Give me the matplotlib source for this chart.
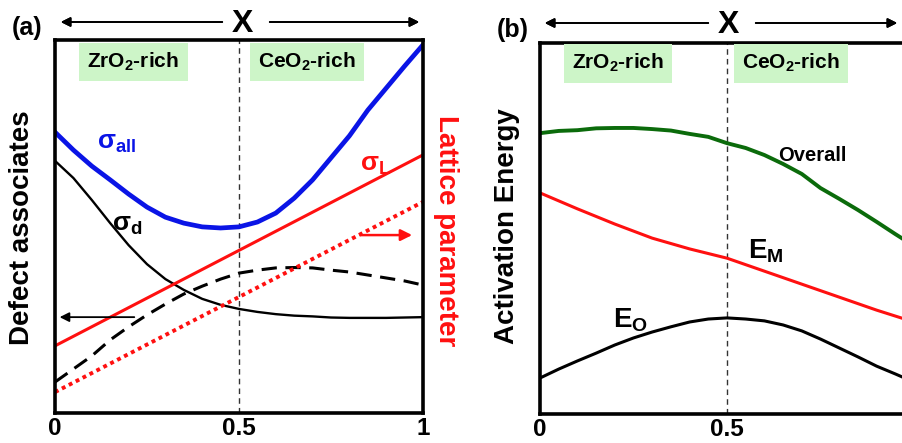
import numpy as np
import matplotlib.pyplot as plt

plt.rcParams['font.family'] = ['Liberation Sans', 'DejaVu Sans']
plt.rcParams['font.weight'] = 'bold'
plt.rcParams['mathtext.fontset'] = 'custom'
plt.rcParams['mathtext.rm'] = 'Liberation Sans:bold'
plt.rcParams['mathtext.bf'] = 'Liberation Sans:bold'
plt.rcParams['mathtext.it'] = 'Liberation Sans:bold'

# composition x (fraction of CeO2)
x_a = np.round(np.arange(0, 1.0001, 0.05), 2)

# panel (a), arbitrary units 0..1
sigma_all = [0.753, 0.705, 0.662, 0.625, 0.587, 0.552, 0.525, 0.509, 0.499, 0.496, 0.499,
             0.512, 0.536, 0.576, 0.625, 0.684, 0.743, 0.812, 0.871, 0.930, 0.987]
sigma_d = [0.676, 0.630, 0.571, 0.509, 0.450, 0.399, 0.359, 0.330, 0.306, 0.290, 0.279,
           0.271, 0.265, 0.261, 0.259, 0.256, 0.255, 0.255, 0.255, 0.256, 0.257]
dashed = [0.083, 0.118, 0.153, 0.196, 0.231, 0.263, 0.292, 0.319, 0.340, 0.359, 0.375,
          0.383, 0.389, 0.390, 0.389, 0.383, 0.378, 0.370, 0.362, 0.354, 0.343]
x_lin = [0, 1]
sigma_L = [0.180, 0.692]
lattice = [0.056, 0.566]

# panel (b), arbitrary units 0..1
overall = [0.757, 0.763, 0.765, 0.770, 0.771, 0.771, 0.768, 0.764, 0.755, 0.747, 0.730,
           0.717, 0.698, 0.674, 0.647, 0.609, 0.580, 0.550, 0.518, 0.485, 0.453]
x_em = [0, 0.1, 0.2, 0.3, 0.4, 0.5, 0.6, 0.7, 0.8, 0.9, 1.0]
E_M = [0.596, 0.553, 0.512, 0.474, 0.445, 0.420, 0.385, 0.350, 0.315, 0.280, 0.248]
E_O = [0.097, 0.121, 0.143, 0.164, 0.186, 0.205, 0.221, 0.235, 0.248, 0.256, 0.259,
       0.256, 0.251, 0.240, 0.224, 0.202, 0.178, 0.154, 0.129, 0.108, 0.086]

ticks = [0, 0.5, 1]
tick_labels = ['0', '0.5', '1']

W, H = 902, 443
fig = plt.figure(figsize=(W / 100, H / 100), dpi=100)
ax1 = fig.add_axes([55 / W, (H - 413) / H, 368 / W, 373 / H])
ax2 = fig.add_axes([540 / W, (H - 414) / H, 374 / W, 371 / H])

box = dict(facecolor='#cdf5c8', edgecolor='none', pad=6)


def setup(ax):
    ax.set_xlim(0, 1)
    ax.set_ylim(0, 1)
    for s in ax.spines.values():
        s.set_linewidth(2.6)
    ax.set_yticks([])
    ax.set_xticks(ticks)
    ax.set_xticklabels(tick_labels, fontsize=17.5, fontweight='bold')
    ax.tick_params(axis='x', length=0, pad=3)
    ax.axvline(0.5, color='#333333', lw=1, ls=(0, (4, 3)))


setup(ax1)
ax1.plot(x_a, sigma_all, color='#0a14e6', lw=3.4, solid_joinstyle='round')
ax1.plot(x_a, sigma_d, color='black', lw=1.7, solid_joinstyle='round')
ax1.plot(x_a, dashed, color='black', lw=2.2, ls=(0, (5, 2.8)))
ax1.plot(x_lin, sigma_L, color='#ff1010', lw=2.2)
ax1.plot(x_lin, lattice, color='#ff1010', lw=2.8, ls=(0, (1, 1)))

ax1.annotate('', xy=(0.005, 0.257), xytext=(0.223, 0.257),
             arrowprops=dict(arrowstyle='-|>', color='black', lw=1.3, mutation_scale=14))
ax1.annotate('', xy=(0.978, 0.477), xytext=(0.823, 0.477),
             arrowprops=dict(arrowstyle='-|>', color='#ff1010', lw=1.8, mutation_scale=17))

ax1.text(0.114, 0.724, r'$\mathbf{\sigma_{all}}$', color='#0a14e6', fontsize=19, ha='left', va='center')
ax1.text(0.155, 0.504, r'$\mathbf{\sigma_{d}}$', color='black', fontsize=19, ha='left', va='center')
ax1.text(0.829, 0.665, r'$\mathbf{\sigma_{L}}$', color='#ff1010', fontsize=19, ha='left', va='center')

ax1.text(0.213, 0.941, r'ZrO$_\mathbf{2}$-rich', fontsize=15, ha='center', va='center', bbox=box)
ax1.text(0.685, 0.941, r'CeO$_\mathbf{2}$-rich', fontsize=15, ha='center', va='center', bbox=box)

setup(ax2)
ax2.plot(x_a, overall, color='#0b6b0b', lw=2.8, solid_joinstyle='round')
ax2.plot(x_em, E_M, color='#ff1010', lw=2.2, solid_joinstyle='round')
ax2.plot(x_a, E_O, color='black', lw=2.2, solid_joinstyle='round')

ax2.text(0.727, 0.698, 'Overall', fontsize=14.5, ha='center', va='center')
ax2.text(0.556, 0.439, r'E$_\mathbf{M}$', fontsize=20, ha='left', va='center')
ax2.text(0.195, 0.253, r'E$_\mathbf{O}$', fontsize=20, ha='left', va='center')

ax2.text(0.209, 0.946, r'ZrO$_\mathbf{2}$-rich', fontsize=15, ha='center', va='center', bbox=box)
ax2.text(0.671, 0.946, r'CeO$_\mathbf{2}$-rich', fontsize=15, ha='center', va='center', bbox=box)


# axis titles and panel tags (figure coordinates from pixels)
def fx(px):
    return px / W


def fy(py):
    return 1 - py / H


fig.text(fx(22), fy(228), 'Defect associates', rotation=90, fontsize=20, ha='center', va='center')
fig.text(fx(446), fy(231), 'Lattice parameter', rotation=-90, fontsize=20, color='#ff1010',
         ha='center', va='center')
fig.text(fx(507), fy(226), 'Activation Energy', rotation=90, fontsize=20, ha='center', va='center')

fig.text(fx(27), fy(28), '(a)', fontsize=18, ha='center', va='center')
fig.text(fx(513), fy(30), '(b)', fontsize=18, ha='center', va='center')

for xc, x0, x1, y in [(242, 58, 422, 22), (728, 542, 900, 23)]:
    fig.text(fx(xc), fy(y + 2), 'X', fontsize=23, ha='center', va='center')
    fig.add_artist(plt.annotate('', xy=(fx(x0), fy(y)), xytext=(fx(xc - 17), fy(y)),
                                xycoords='figure fraction',
                                arrowprops=dict(arrowstyle='-|>', color='black', lw=1.3,
                                                mutation_scale=14)))
    fig.add_artist(plt.annotate('', xy=(fx(x1), fy(y)), xytext=(fx(xc + 25), fy(y)),
                                xycoords='figure fraction',
                                arrowprops=dict(arrowstyle='-|>', color='black', lw=1.3,
                                                mutation_scale=14)))

fig.savefig('out.png', dpi=100)
